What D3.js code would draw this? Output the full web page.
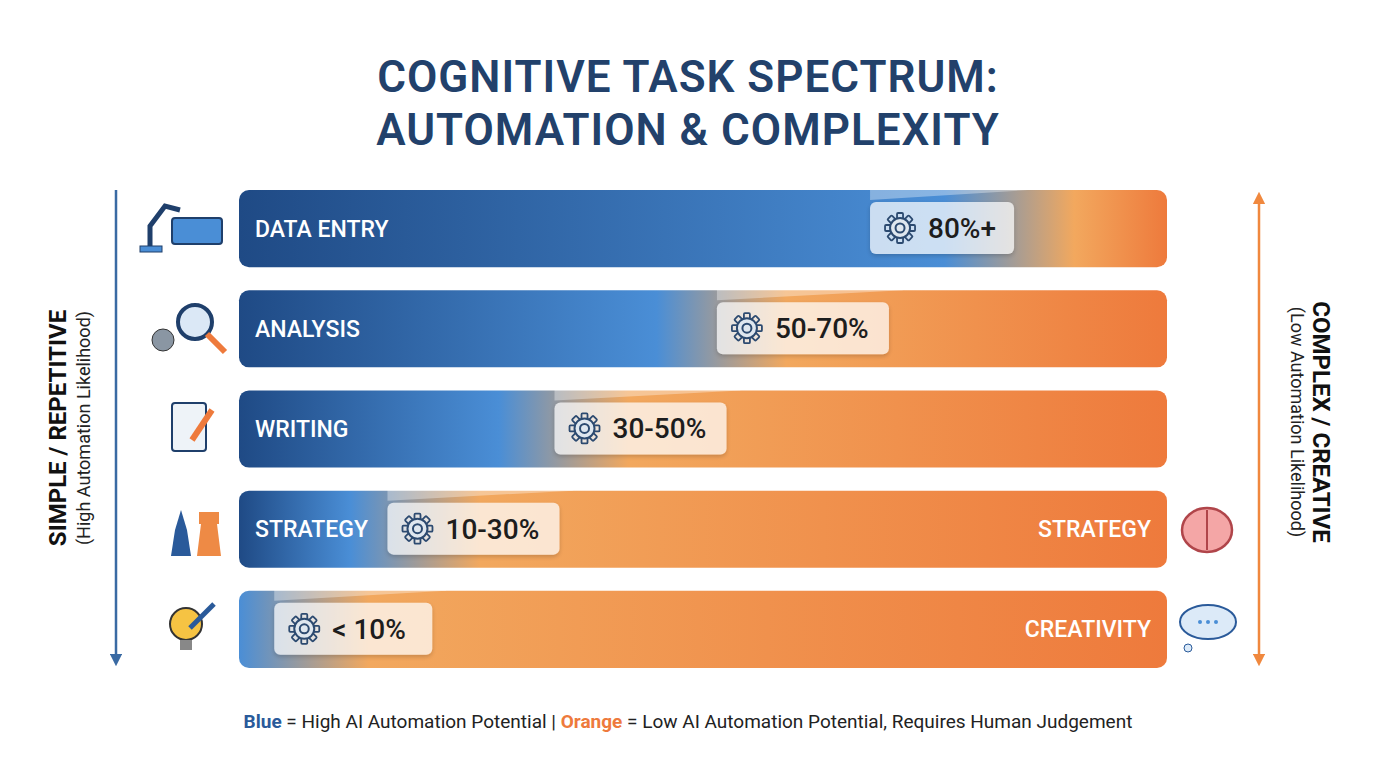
<!DOCTYPE html>
<html><head><meta charset="utf-8">
<script src="https://cdn.jsdelivr.net/npm/d3@7/dist/d3.min.js"></script>
<style>body{margin:0;background:#fff;font-family:Roboto,"Open Sans",sans-serif}</style>
</head><body><svg id="c" width="1376" height="768"></svg>
<script>
// data
var tasks = ["DATA ENTRY", "ANALYSIS", "WRITING", "STRATEGY", "CREATIVITY"];
var leftLabels = ["DATA ENTRY", "ANALYSIS", "WRITING", "STRATEGY", ""];
var rightLabels = ["", "", "", "STRATEGY", "CREATIVITY"];
var badgeText = ["80%+", "50-70%", "30-50%", "10-30%", "< 10%"];
var markerPos = [68, 51.5, 34, 16, 3.8];     // badge position on 0-100 spectrum
var blueEnd = [78, 47, 30, 14, 2];           // where blue fades to orange (0-100)

var svg = d3.select("#c");
var x = d3.scaleLinear().domain([0, 100]).range([239, 1167]);
var y = d3.scaleBand().domain(tasks).range([190, 668]).paddingInner(0.23);
var defs = svg.append("defs");

svg.append("text").attr("x", 688).attr("y", 92).attr("text-anchor", "middle").attr("letter-spacing", 1)
  .attr("font-size", 44).attr("font-weight", 600).attr("fill", "#22416b").text("COGNITIVE TASK SPECTRUM:");
svg.append("text").attr("x", 688).attr("y", 145).attr("text-anchor", "middle").attr("letter-spacing", 1)
  .attr("font-size", 44).attr("font-weight", 600).attr("fill", "#22416b").text("AUTOMATION & COMPLEXITY");

var sh = defs.append("filter").attr("id", "sh").attr("x", "-20%").attr("y", "-20%").attr("width", "140%").attr("height", "160%");
sh.append("feDropShadow").attr("dx", 0).attr("dy", 2).attr("stdDeviation", 2).attr("flood-opacity", 0.25);

tasks.forEach(function (t, i) {
  var g = defs.append("linearGradient").attr("id", "g" + i);
  var b = blueEnd[i] / 100;
  g.append("stop").attr("offset", 0).attr("stop-color", "#1f4a85");
  g.append("stop").attr("offset", Math.max(0, b - 0.02)).attr("stop-color", "#4a8ed6");
  g.append("stop").attr("offset", Math.min(1, b + 0.12)).attr("stop-color", "#f2a85e");
  g.append("stop").attr("offset", 1).attr("stop-color", "#ee7a3c");

  var yy = y(t), h = y.bandwidth();
  svg.append("rect").attr("x", x(0)).attr("y", yy).attr("width", x(100) - x(0)).attr("height", h)
    .attr("rx", 10).attr("fill", "url(#g" + i + ")");
  if (leftLabels[i]) svg.append("text").attr("x", x(0) + 16).attr("y", yy + h / 2 + 8).attr("fill", "#fff")
    .attr("font-size", 23).attr("font-weight", 500).text(leftLabels[i]);
  if (rightLabels[i]) svg.append("text").attr("x", x(100) - 16).attr("y", yy + h / 2 + 8)
    .attr("text-anchor", "end").attr("fill", "#fff").attr("font-size", 23).attr("font-weight", 500).text(rightLabels[i]);

  var bx = x(markerPos[i]), bw = badgeText[i].length * 14 + 88;
  // tab
  svg.append("path").attr("d", "M" + bx + "," + (yy + 10) + "V" + (yy - 10) + "H" + (bx + bw + 8) + "L" + (bx + bw + 14) + "," + (yy))
    .attr("fill", "#fff").attr("opacity", 0.35);
  svg.append("rect").attr("x", bx).attr("y", yy + 12).attr("width", bw).attr("height", 52).attr("rx", 6)
    .attr("fill", "#fff").attr("opacity", 0.72).attr("filter", "url(#sh)");
  var gc = svg.append("g").attr("transform", "translate(" + (bx + 30) + "," + (yy + 38) + ")");
  d3.range(8).forEach(function (k) {
    gc.append("rect").attr("x", -3).attr("y", -15).attr("width", 6).attr("height", 7).attr("rx", 1)
      .attr("transform", "rotate(" + k * 45 + ")").attr("fill", "none").attr("stroke", "#2c4a70").attr("stroke-width", 1.8);
  });
  gc.append("circle").attr("r", 10).attr("fill", "#dfe7ef").attr("stroke", "#2c4a70").attr("stroke-width", 2);
  gc.append("circle").attr("r", 4.5).attr("fill", "none").attr("stroke", "#2c4a70").attr("stroke-width", 2);
  svg.append("text").attr("x", bx + 58).attr("y", yy + 48).attr("font-size", 28).attr("font-weight", 500)
    .attr("fill", "#1d1d1d").text(badgeText[i]);
});

// side arrows
defs.append("marker").attr("id", "ab").attr("viewBox", "0 0 10 10").attr("refX", 5).attr("refY", 5)
  .attr("markerWidth", 5).attr("markerHeight", 5).attr("orient", "auto")
  .append("path").attr("d", "M0,0L10,5L0,10z").attr("fill", "#3a6aa3");
defs.append("marker").attr("id", "ao").attr("viewBox", "0 0 10 10").attr("refX", 5).attr("refY", 5)
  .attr("markerWidth", 5).attr("markerHeight", 5).attr("orient", "auto-start-reverse")
  .append("path").attr("d", "M0,0L10,5L0,10z").attr("fill", "#f0883e");
svg.append("line").attr("x1", 116).attr("x2", 116).attr("y1", 190).attr("y2", 660)
  .attr("stroke", "#3a6aa3").attr("stroke-width", 2.5).attr("marker-end", "url(#ab)");
svg.append("line").attr("x1", 1259).attr("x2", 1259).attr("y1", 198).attr("y2", 660)
  .attr("stroke", "#f0883e").attr("stroke-width", 2.5).attr("marker-start", "url(#ao)").attr("marker-end", "url(#ao)");

var lt = svg.append("g").attr("transform", "translate(66,428) rotate(-90)");
lt.append("text").attr("text-anchor", "middle").attr("font-size", 24).attr("font-weight", 700).attr("fill", "#111").text("SIMPLE / REPETITIVE");
lt.append("text").attr("y", 24).attr("text-anchor", "middle").attr("font-size", 18).attr("fill", "#222").text("(High Automation Likelihood)");
var rt = svg.append("g").attr("transform", "translate(1313,422) rotate(90)");
rt.append("text").attr("text-anchor", "middle").attr("font-size", 24).attr("font-weight", 700).attr("fill", "#111").text("COMPLEX / CREATIVE");
rt.append("text").attr("y", 22).attr("text-anchor", "middle").attr("font-size", 18).attr("fill", "#222").text("(Low Automation Likelihood)");

// simple icons
function icon(cx, cy) { return svg.append("g").attr("transform", "translate(" + cx + "," + cy + ")"); }
var i0 = icon(180, 228);
i0.append("rect").attr("x", -8).attr("y", -10).attr("width", 50).attr("height", 26).attr("rx", 3).attr("fill", "#4a8ed6").attr("stroke", "#1f3f6b").attr("stroke-width", 2);
i0.append("path").attr("d", "M-30,20V-2L-15,-22L0,-18").attr("fill", "none").attr("stroke", "#1f3f6b").attr("stroke-width", 5);
i0.append("rect").attr("x", -40).attr("y", 18).attr("width", 22).attr("height", 6).attr("fill", "#4a8ed6").attr("stroke", "#1f3f6b");
var i1 = icon(195, 322);
i1.append("circle").attr("cx", -32).attr("cy", 18).attr("r", 11).attr("fill", "#8a96a3").attr("stroke", "#333");
i1.append("circle").attr("r", 17).attr("fill", "#dbe8f6").attr("stroke", "#1f3f6b").attr("stroke-width", 4);
i1.append("line").attr("x1", 12).attr("y1", 12).attr("x2", 30).attr("y2", 30).attr("stroke", "#ee7a3c").attr("stroke-width", 6);
var i2 = icon(190, 428);
i2.append("rect").attr("x", -18).attr("y", -25).attr("width", 34).attr("height", 48).attr("rx", 3).attr("fill", "#eef3f8").attr("stroke", "#1f3f6b").attr("stroke-width", 2);
i2.append("line").attr("x1", 22).attr("y1", -18).attr("x2", 2).attr("y2", 12).attr("stroke", "#ee7a3c").attr("stroke-width", 6);
var i3 = icon(195, 530);
i3.append("path").attr("d", "M-24,26H-4L-8,0L-14,-20L-20,0Z").attr("fill", "#2a5a9a");
i3.append("path").attr("d", "M2,26H26L22,-6H24V-18H4V-6H6Z").attr("fill", "#ee8a45");
var i4 = icon(190, 628);
i4.append("circle").attr("cx", -4).attr("cy", -4).attr("r", 16).attr("fill", "#f6c343").attr("stroke", "#333").attr("stroke-width", 2);
i4.append("rect").attr("x", -10).attr("y", 12).attr("width", 12).attr("height", 10).attr("fill", "#888");
i4.append("line").attr("x1", 0).attr("y1", 0).attr("x2", 24).attr("y2", -24).attr("stroke", "#2a5a9a").attr("stroke-width", 5);
var i5 = icon(1207, 530);
i5.append("ellipse").attr("rx", 25).attr("ry", 22).attr("fill", "#f4a6a6").attr("stroke", "#b0454a").attr("stroke-width", 2.5);
i5.append("line").attr("y1", -20).attr("y2", 20).attr("stroke", "#b0454a").attr("stroke-width", 2);
var i6 = icon(1208, 622);
i6.append("ellipse").attr("rx", 28).attr("ry", 17).attr("fill", "#dceaf8").attr("stroke", "#2a5a9a").attr("stroke-width", 2);
i6.append("circle").attr("cx", -20).attr("cy", 26).attr("r", 4).attr("fill", "#dceaf8").attr("stroke", "#2a5a9a");
[-8, 0, 8].forEach(function (d) { i6.append("circle").attr("cx", d).attr("r", 2).attr("fill", "#4a8ed6"); });

var lg = svg.append("text").attr("x", 688).attr("y", 728).attr("text-anchor", "middle").attr("font-size", 19).attr("fill", "#222");
lg.append("tspan").attr("fill", "#2a5a9a").attr("font-weight", 700).text("Blue");
lg.append("tspan").text(" = High AI Automation Potential |  ");
lg.append("tspan").attr("fill", "#ee7a3c").attr("font-weight", 700).text("Orange");
lg.append("tspan").text(" = Low AI Automation Potential, Requires Human Judgement");
</script></body></html>
